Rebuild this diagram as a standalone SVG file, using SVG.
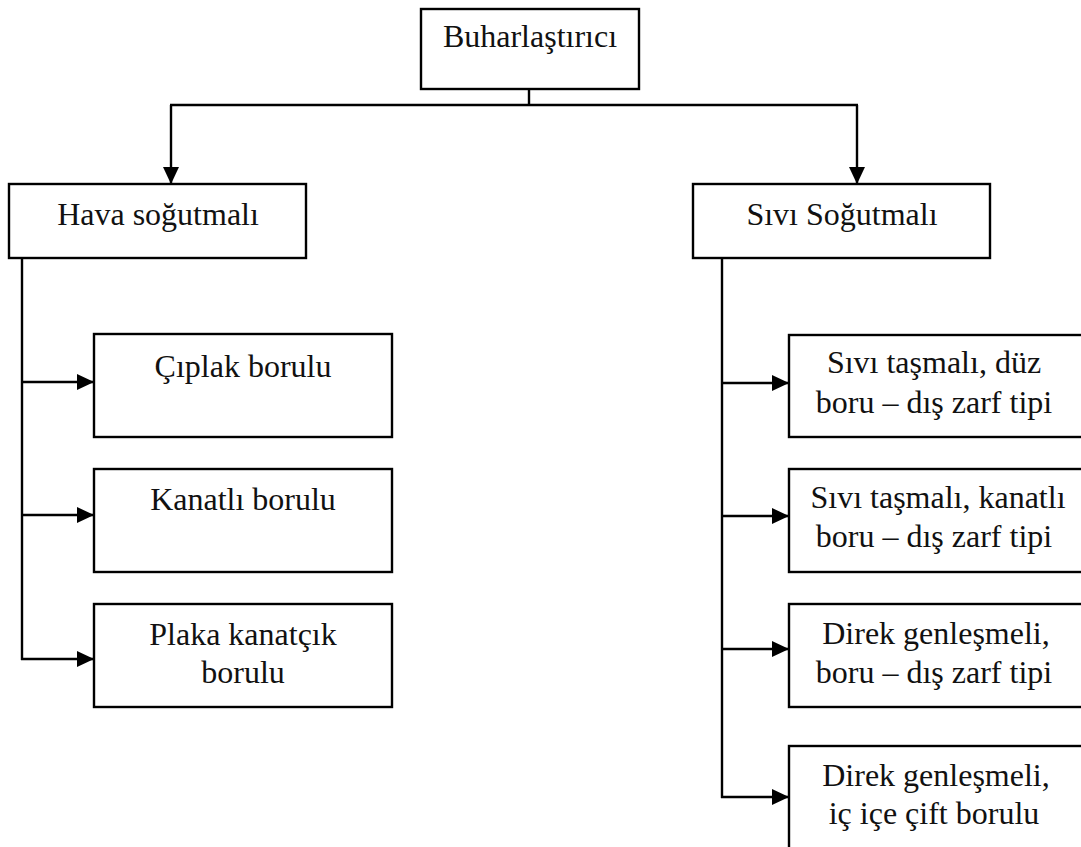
<svg xmlns="http://www.w3.org/2000/svg" width="1081" height="847" viewBox="0 0 1081 847">
<defs>
<marker id="arr" markerUnits="userSpaceOnUse" markerWidth="17" markerHeight="16" refX="17" refY="8" orient="auto">
<path d="M0,0 L17,8 L0,16 z" fill="#000"/>
</marker>
<style>
.box{fill:#fff;stroke:#000;stroke-width:2.4}
.t{font-family:"Liberation Serif","Times New Roman",serif;font-size:32px;fill:#111;text-anchor:middle}
.c{fill:none;stroke:#000;stroke-width:2.4}
</style>
</defs>
<rect width="1081" height="847" fill="#fff"/>
<g id="connectors">
<line class="c" x1="529" y1="89" x2="529" y2="105"/>
<line class="c" x1="170" y1="105" x2="858" y2="105"/>
<line class="c" x1="171" y1="105" x2="171" y2="184" marker-end="url(#arr)"/>
<line class="c" x1="857" y1="105" x2="857" y2="184" marker-end="url(#arr)"/>
<line class="c" x1="22" y1="258" x2="22" y2="660"/>
<line class="c" x1="22" y1="382" x2="94" y2="382" marker-end="url(#arr)"/>
<line class="c" x1="21" y1="515" x2="94" y2="515" marker-end="url(#arr)"/>
<line class="c" x1="21" y1="659" x2="94" y2="659" marker-end="url(#arr)"/>
<line class="c" x1="722" y1="258" x2="722" y2="798"/>
<line class="c" x1="722" y1="383" x2="789" y2="383" marker-end="url(#arr)"/>
<line class="c" x1="722" y1="516" x2="789" y2="516" marker-end="url(#arr)"/>
<line class="c" x1="722" y1="649" x2="789" y2="649" marker-end="url(#arr)"/>
<line class="c" x1="721" y1="797" x2="789" y2="797" marker-end="url(#arr)"/>
</g>
<g id="n-buharlastirici">
<rect class="box" x="421" y="9" width="218" height="80"/>
<text class="t" x="530" y="47">Buharlaştırıcı</text>
</g>
<g id="n-hava">
<rect class="box" x="9" y="184" width="297" height="74"/>
<text class="t" x="158" y="225">Hava soğutmalı</text>
</g>
<g id="n-sivi">
<rect class="box" x="693" y="184" width="297" height="74"/>
<text class="t" x="842" y="225">Sıvı Soğutmalı</text>
</g>
<g id="n-ciplak">
<rect class="box" x="94" y="334" width="298" height="103"/>
<text class="t" x="243" y="377">Çıplak borulu</text>
</g>
<g id="n-kanatli">
<rect class="box" x="94" y="469" width="298" height="103"/>
<text class="t" x="243" y="510">Kanatlı borulu</text>
</g>
<g id="n-plaka">
<rect class="box" x="94" y="604" width="298" height="103"/>
<text class="t" x="243" y="645">Plaka kanatçık</text>
<text class="t" x="243" y="683">borulu</text>
</g>
<g id="n-sivi-duz">
<rect class="box" x="789" y="335" width="300" height="102"/>
<text class="t" x="934" y="373">Sıvı taşmalı, düz</text>
<text class="t" x="934" y="413">boru – dış zarf tipi</text>
</g>
<g id="n-sivi-kanatli">
<rect class="box" x="789" y="469" width="300" height="103"/>
<text class="t" x="938" y="508">Sıvı taşmalı, kanatlı</text>
<text class="t" x="934" y="547">boru – dış zarf tipi</text>
</g>
<g id="n-direk-boru">
<rect class="box" x="789" y="604" width="300" height="103"/>
<text class="t" x="936" y="644">Direk genleşmeli,</text>
<text class="t" x="934" y="683">boru – dış zarf tipi</text>
</g>
<g id="n-direk-ic">
<rect class="box" x="789" y="746" width="300" height="110"/>
<text class="t" x="936" y="786">Direk genleşmeli,</text>
<text class="t" x="934" y="824">iç içe çift borulu</text>
</g>
</svg>
